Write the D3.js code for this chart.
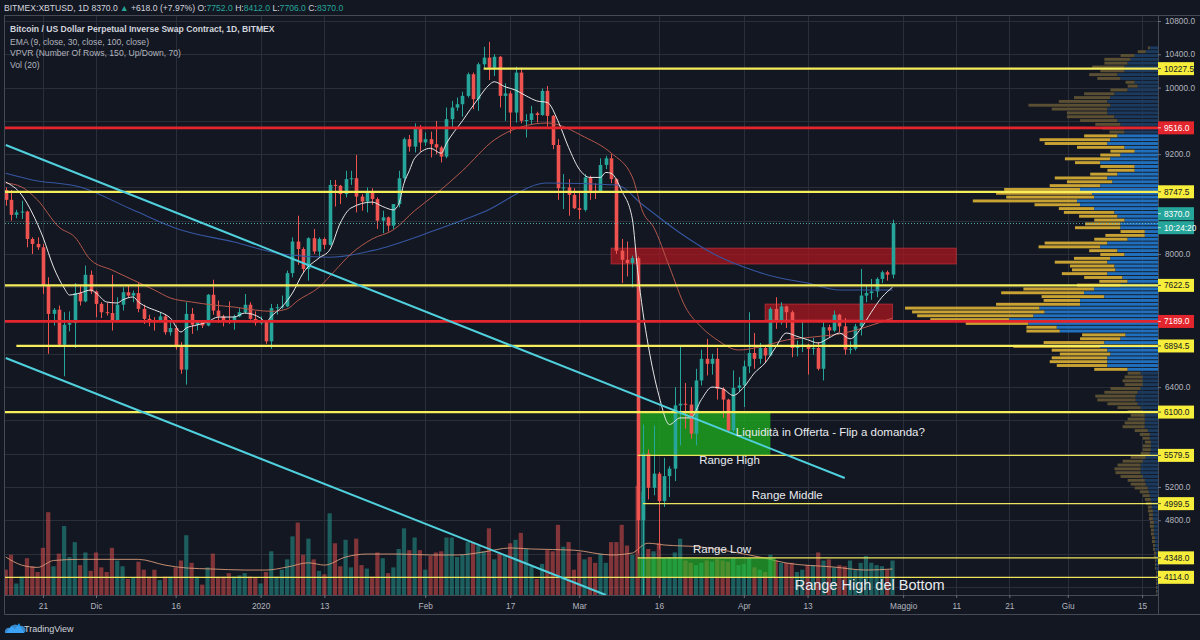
<!DOCTYPE html>
<html>
<head>
<meta charset="utf-8">
<script src="https://cdn.jsdelivr.net/npm/d3@7"></script>
<style>
  html, body { margin: 0; padding: 0; background: #131722; }
  svg { display: block; font-family: "Liberation Sans", Arial, sans-serif; }
</style>
</head>
<body>
<svg id="chart" width="1200" height="640"></svg>
<script>
// ---------------- data ----------------

// daily candles [open, high, low, close], first one is 14 Nov 2019
const firstDay = '2019-11-14'
const candles = [
  // Nov
  [8770,8800,8580,8650],[8650,8770,8400,8470],[8470,8530,8430,8500],[8500,8640,8420,8510],[8510,8520,8080,8180],
  [8180,8200,8000,8120],[8120,8200,8050,8080],[8080,8120,7520,7620],[7620,7720,6800,7280],[7280,7350,7140,7330],
  [7330,7380,6880,6910],[6910,7300,6530,7150],[7150,7310,7070,7170],[7170,7650,6870,7530],[7530,7620,7380,7430],
  [7430,7860,7420,7750],[7750,7800,7520,7550],
  // Dec
  [7550,7560,7240,7400],[7400,7420,7230,7300],[7300,7410,7260,7290],[7290,7750,7080,7200],[7200,7480,7180,7390],
  [7390,7600,7320,7540],[7540,7620,7480,7500],[7500,7560,7420,7530],[7530,7650,7300,7340],[7340,7390,7160,7220],
  [7220,7270,7130,7200],[7200,7240,7080,7190],[7190,7300,7180,7250],[7250,7270,7030,7060],[7060,7180,7020,7110],
  [7110,7140,6850,6880],[6880,6940,6560,6610],[6610,7420,6430,7280],[7280,7350,7040,7150],[7150,7200,7080,7190],
  [7190,7200,7110,7140],[7140,7520,7130,7510],[7510,7690,7270,7320],[7320,7440,7170,7250],[7250,7270,7130,7200],
  [7200,7430,7160,7190],[7190,7270,7090,7250],[7250,7350,7240,7300],[7300,7520,7280,7390],[7390,7420,7210,7220],
  [7220,7310,7140,7170],
  // Jan
  [7170,7250,7150,7180],[7180,7200,6920,6950],[6950,7400,6860,7350],[7350,7400,7270,7360],[7360,7500,7340,7370],
  [7370,7800,7360,7770],[7770,8200,7720,8150],[8150,8460,7870,8060],[8060,8080,7770,7820],[7820,8200,7680,8190],
  [8190,8300,8000,8030],[8030,8200,7970,8180],[8180,8200,8060,8110],[8110,8890,8100,8830],[8830,8890,8570,8820],
  [8820,8830,8600,8720],[8720,9000,8680,8900],[8900,9000,8830,8910],[8910,9190,8500,8690],[8690,8720,8520,8630],
  [8630,8800,8500,8740],[8740,8790,8590,8660],[8660,8680,8300,8400],[8400,8520,8250,8440],[8440,8450,8270,8340],
  [8340,8600,8300,8600],[8600,9000,8560,8910],[8910,9400,8870,9380],[9380,9430,9230,9290],[9290,9570,9220,9510],
  [9510,9550,9230,9340],
  // Feb
  [9340,9460,9300,9380],[9380,9470,9160,9320],[9320,9600,9200,9280],[9280,9300,9100,9170],[9170,9760,9150,9620],
  [9620,9840,9530,9760],[9760,9880,9720,9800],[9800,9950,9650,9900],[9900,10180,9880,10160],[10160,10180,9740,9860],
  [9860,10300,9720,10280],[10280,10490,10240,10360],[10360,10550,10090,10240],[10240,10400,10140,10370],[10370,10380,9760,9900],
  [9900,10050,9600,9930],[9930,9960,9450,9700],[9700,10250,9580,10180],[10180,10240,9570,9600],[9600,9680,9400,9610],
  [9610,9780,9560,9690],[9690,9710,9580,9670],[9670,9990,9660,9960],[9960,10020,9530,9660],[9660,9670,9260,9310],
  [9310,9380,8650,8790],[8790,8960,8540,8800],[8800,8900,8460,8710],[8710,8790,8540,8550],
  // Mar
  [8550,8750,8420,8530],[8530,8960,8510,8920],[8920,8940,8650,8760],[8760,8850,8660,8750],[8750,9150,8740,9070],
  [9070,9180,9020,9150],[9150,9200,8850,8900],[8900,8910,8000,8040],[8040,8180,7650,7930],[7930,8150,7730,7890],
  [7890,7980,7600,7950],[7950,7970,4400,4800],[4800,5950,3600,5600],[5600,5650,5050,5190],[5190,5940,5100,5360],
  [5360,5380,4450,5030],[5030,5550,4960,5330],[5330,5450,5080,5420],[5420,6400,5270,6180],[6180,6900,5700,6200],
  [6200,6450,5900,6190],[6190,6400,5780,5840],[5840,6620,5700,6480],[6480,6850,6420,6740],[6740,6980,6540,6680],
  [6680,6800,6550,6740],[6740,6870,6250,6380],[6380,6400,6030,6250],[6250,6260,5870,5880],[5880,6600,5860,6390],
  [6390,6520,6340,6420],
  // Apr
  [6420,6720,6160,6650],[6650,7300,6570,6810],[6810,7050,6620,6740],[6740,6930,6680,6870],[6870,6890,6690,6780],
  [6780,7360,6770,7340],[7340,7480,7100,7200],[7200,7420,7150,7370],[7370,7380,7110,7300],[7300,7320,6760,6870],
  [6870,6960,6770,6890],[6890,7200,6820,6910],[6910,6920,6550,6860],[6860,6990,6790,6870],[6870,6940,6600,6620],
  [6620,7200,6480,7120],[7120,7150,7000,7080],[7080,7320,7060,7270],[7270,7280,7060,7130],[7130,7230,6790,6850],
  [6850,6950,6800,6860],[6860,7160,6840,7130],[7130,7820,7020,7500],[7500,7620,7420,7530],[7530,7700,7450,7550],
  [7550,7720,7480,7700],[7700,7800,7650,7780],[7780,7800,7680,7752],[7752,8412,7706,8370]
]

// daily volume (relative units), same days as the candles
const volume = [
  22,35,10,16,32,25,20,41,72,25,36,60,33,46,26,37,21,
  37,24,20,41,30,25,14,15,29,22,16,22,13,16,16,24,30,52,28,16,9,24,36,16,16,19,16,17,19,16,15,
  10,20,38,16,22,31,51,63,35,49,31,21,18,71,45,25,48,24,49,26,23,16,37,32,19,24,40,58,39,50,39,
  22,34,37,38,50,50,33,35,46,46,43,38,58,31,36,35,45,48,54,40,25,14,27,39,38,61,42,46,22,
  37,31,33,28,36,28,46,46,61,43,35,95,90,40,38,45,32,33,37,49,30,28,26,28,30,29,31,30,29,32,26,
  27,32,24,22,20,35,30,28,28,28,20,22,26,26,37,30,31,24,26,25,30,22,28,34,28,26,25,22,30
]

// indicator lines read at sample dates
const ema9 = [
  ['2019-11-14',8865],['2019-11-17',8709],['2019-11-19',8492],['2019-11-21',8204],['2019-11-23',7843],
  ['2019-11-25',7591],['2019-11-26',7507],['2019-11-28',7531],['2019-11-30',7567],['2019-12-01',7531],
  ['2019-12-03',7423],['2019-12-05',7411],['2019-12-06',7447],['2019-12-08',7483],['2019-12-09',7423],
  ['2019-12-11',7351],['2019-12-13',7303],['2019-12-15',7230],['2019-12-17',7062],['2019-12-18',7110],
  ['2019-12-20',7146],['2019-12-22',7182],['2019-12-24',7242],['2019-12-27',7242],['2019-12-29',7290],
  ['2020-01-01',7230],['2020-01-02',7180],['2020-01-03',7250],['2020-01-05',7362],['2020-01-07',7531],
  ['2020-01-09',7771],['2020-01-12',7952],['2020-01-14',8048],['2020-01-16',8372],['2020-01-18',8552],
  ['2020-01-22',8624],['2020-01-24',8570],['2020-01-26',8530],['2020-01-27',8600],['2020-01-28',8850],
  ['2020-01-29',9000],['2020-01-30',9150],['2020-02-02',9270],['2020-02-04',9210],['2020-02-05',9330],
  ['2020-02-08',9600],['2020-02-11',9870],['2020-02-13',10030],['2020-02-14',10070],['2020-02-16',10010],
  ['2020-02-18',9970],['2020-02-20',9900],['2020-02-22',9840],['2020-02-24',9820],['2020-02-26',9600],
  ['2020-02-28',9280],['2020-03-01',9020],['2020-03-03',8920],['2020-03-05',8920],['2020-03-06',8980],
  ['2020-03-07',8970],['2020-03-09',8760],['2020-03-11',8420],['2020-03-12',7800],['2020-03-13',7300],
  ['2020-03-14',6900],['2020-03-16',6300],['2020-03-18',5950],['2020-03-20',6030],['2020-03-22',6030],
  ['2020-03-24',6250],['2020-03-26',6400],['2020-03-28',6380],['2020-03-30',6300],['2020-04-01',6400],
  ['2020-04-03',6570],['2020-04-05',6690],['2020-04-07',6880],['2020-04-09',7050],['2020-04-11',7010],
  ['2020-04-13',6970],['2020-04-15',6930],['2020-04-17',6990],['2020-04-19',7050],['2020-04-21',6980],
  ['2020-04-23',7100],['2020-04-25',7300],['2020-04-27',7480],['2020-04-29',7600]
]
const ema30 = [
  ['2019-11-14',8853],['2019-11-17',8805],['2019-11-20',8648],['2019-11-24',8324],['2019-11-27',8204],
  ['2019-11-30',7928],['2019-12-04',7807],['2019-12-08',7687],['2019-12-12',7567],['2019-12-15',7471],
  ['2019-12-19',7423],['2019-12-23',7387],['2019-12-27',7362],['2019-12-31',7326],['2020-01-03',7310],
  ['2020-01-06',7340],['2020-01-08',7440],['2020-01-12',7600],['2020-01-15',7800],['2020-01-18',8000],
  ['2020-01-22',8180],['2020-01-26',8290],['2020-01-30',8520],['2020-02-03',8720],['2020-02-08',9000],
  ['2020-02-14',9370],['2020-02-19',9526],['2020-02-24',9574],['2020-03-02',9406],['2020-03-07',9213],
  ['2020-03-11',8925],['2020-03-13',8500],['2020-03-15',8324],['2020-03-18',7843],['2020-03-21',7362],
  ['2020-03-24',7122],['2020-03-27',6966],['2020-03-31',6846],['2020-04-04',6882],['2020-04-09',6966],
  ['2020-04-14',7002],['2020-04-20',7050],['2020-04-24',7122],['2020-04-29',7230]
]
const ema100 = [
  ['2019-11-14',8970],['2019-11-19',8890],['2019-11-28',8805],['2019-12-08',8528],['2019-12-17',8288],
  ['2019-12-27',8144],['2020-01-05',8000],['2020-01-14',7960],['2020-01-22',8040],['2020-02-03',8288],
  ['2020-02-12',8504],['2020-02-24',8853],['2020-03-08',8829],['2020-03-13',8588],['2020-03-20',8252],
  ['2020-03-26',8011],['2020-04-01',7843],['2020-04-07',7723],['2020-04-13',7651],['2020-04-19',7567],
  ['2020-04-29',7567]
]
const volMA = [
  ['2019-11-14',33],['2019-11-17',26],['2019-11-20',24],['2019-11-23',30],['2019-11-28',31],
  ['2019-12-04',31],['2019-12-09',31],['2019-12-14',26],['2019-12-18',23.5],['2019-12-23',22.6],
  ['2019-12-29',21.7],['2020-01-02',21.7],['2020-01-06',24.3],['2020-01-10',28],['2020-01-13',26],
  ['2020-01-17',33],['2020-01-21',35.6],['2020-01-27',35.6],['2020-02-02',34.8],['2020-02-07',34.8],
  ['2020-02-12',37.4],['2020-02-17',40.9],['2020-02-21',40],['2020-02-29',39],['2020-03-07',34.8],
  ['2020-03-11',36.5],['2020-03-12',39.5],['2020-03-13',43.5],['2020-03-14',45],['2020-03-17',43.5],
  ['2020-03-24',41.7],['2020-03-30',37.4],['2020-04-05',32],['2020-04-09',27.8],['2020-04-18',24.3],
  ['2020-04-24',21.7],['2020-04-29',22.6]
]

// visible range volume profile: 150 rows from 10500 down to 3600
const vpHigh = 10500, vpLow = 3600
const valueArea = [6600, 9420]
const vpTotal = [
  10,20,37,53,53,65,57,68,60,32, 30,47,73,83,98,128,105,90,90,77,
  62,55,48,73,117,112,80,47,57,92, 82,57,50,67,102,90,107,152,160,150,
  183,122,98,93,78,63,72,82,37,52, 63,112,118,68,57,83,102,87,85,95,
  73,58,80,133,155,115,113,160,250,243, 238,225,190,130,130,75,77,113,143,105,
  97,105,107,100,63,30,33,35,33,47, 53,62,60,50,40,30,27,30,33,35,
  23,18,15,13,15,15,17,27,35,40, 43,42,37,30,27,23,18,15,13,12,
  10,10,9,9,8,8,7,7,6,6, 5,5,4,4,3,3,3,2,2,2,
  2,2,2,2,1,1,1,1,1,1
]
const vpUp = [
  8,12,23,27,30,33,33,40,37,23, 20,30,43,47,50,47,50,50,43,40,
  37,33,33,40,47,50,33,23,37,47, 57,23,23,40,50,45,57,77,65,63,
  80,77,63,43,40,33,37,37,13,13, 30,50,57,40,33,47,50,43,42,50,
  35,30,37,63,73,53,77,77,117,112, 123,147,128,100,97,32,37,53,57,50,
  47,50,50,50,30,17,15,15,15,17, 20,22,22,20,17,15,13,13,13,13,
  10,8,8,7,7,7,8,12,15,17, 17,17,15,13,12,10,9,8,7,6,
  6,5,5,5,4,4,4,4,3,3, 3,3,2,2,2,2,2,1,1,1,
  1,1,1,1,1,1,1,1,1,1
]

// drawings: horizontal levels [price, start date or null, kind]
const levels = [
  [10227.5, '2020-02-12', 'major'],
  [9516.0, null, 'key'],
  [8747.5, null, 'major'],
  [7622.5, null, 'major'],
  [7189.0, null, 'key'],
  [6894.5, '2019-11-16', 'major'],
  [6100.0, null, 'major'],
  [5579.5, '2020-03-12', 'minor'],
  [4999.5, '2020-03-13', 'minor'],
  [4348.0, '2020-03-12', 'minor'],
  [4114.0, null, 'minor']
]
// zones [from, to, low, high, kind]
const zones = [
  ['2020-03-07', '2020-05-11', 7880, 8070, 'supply'],
  ['2020-04-05', '2020-04-29', 7206, 7398, 'supply'],
  ['2020-03-12', '2020-04-06', 5580, 6100, 'demand'],
  ['2020-03-12', '2020-04-07', 4114, 4348, 'bottom']
]
const trendlines = [
  [['2019-11-14', 9310], ['2020-04-20', 5307]],
  [['2019-11-14', 6750], ['2020-03-06', 3901]]
]
const notes = [
  ['Liquidità in Offerta - Flip a domanda?', '2020-03-30T12:00Z', 5812, 'small'],
  ['Range High', '2020-03-23T14:00Z', 5476, 'small'],
  ['Range Middle', '2020-04-02T12:00Z', 5055, 'small'],
  ['Range Low', '2020-03-22T10:00Z', 4406, 'small'],
  ['Range High del Bottom', '2020-04-10T14:00Z', 3961, 'big']
]

// axis
const timeTicks = ['2019-11-21','2019-12-01','2019-12-16','2020-01-01','2020-01-13','2020-02-01','2020-02-17',
  '2020-03-01','2020-03-16','2020-04-01','2020-04-13','2020-05-01','2020-05-11','2020-05-21','2020-06-01','2020-06-15']
const timeLabels = ['21','Dic','16','2020','13','Feb','17','Mar','16','Apr','13','Maggio','11','21','Giu','15']
const priceTicks = d3.range(4000, 10801, 400)

const title = 'Bitcoin / US Dollar Perpetual Inverse Swap Contract, 1D, BITMEX'
const legend = ['EMA (9, close, 30, close, 100, close)', 'VPVR (Number Of Rows, 150, Up/Down, 70)', 'Vol (20)']
const countdown = '10:24:20'

// ---------------- chart ----------------
const svg = d3.select('#chart')
const plot = { left: 5, right: 1158, top: 15, bottom: 595 }
const axisBottomY = 614.5
const up = '#26a69a', down = '#ef5350'
const yellow = '#f6ee5a', red = '#e3262d'

const toDate = s => new Date(s.length > 10 ? s : s + 'T00:00:00Z')
const days = candles.map((d, i) => d3.utcDay.offset(toDate(firstDay), i))

const x = d3.scaleUtc()
  .domain([toDate('2019-11-21'), toDate('2020-06-15')])
  .range([42.9, 1142.1])
const y = d3.scaleLinear()
  .domain([4000, 10800])
  .range([586.8, 21])
const vy = d3.scaleLinear()
  .domain([0, 100])
  .range([plot.bottom, 480])

svg.append('rect').attr('width', 1200).attr('height', 640).attr('fill', '#131722')

svg.append('clipPath').attr('id', 'clip')
  .append('rect')
  .attr('x', plot.left).attr('y', plot.top)
  .attr('width', plot.right - plot.left).attr('height', plot.bottom - plot.top)

// grid
const grid = svg.append('g').attr('stroke', '#2a2e39').attr('stroke-width', 1)
grid.selectAll('line.h').data(priceTicks).join('line')
  .attr('x1', plot.left).attr('x2', plot.right)
  .attr('y1', d => Math.round(y(d)) + 0.5).attr('y2', d => Math.round(y(d)) + 0.5)
grid.selectAll('line.v').data(timeTicks).join('line')
  .attr('y1', plot.top).attr('y2', plot.bottom)
  .attr('x1', d => Math.round(x(toDate(d))) + 0.5).attr('x2', d => Math.round(x(toDate(d))) + 0.5)

const g = svg.append('g').attr('clip-path', 'url(#clip)')

// volume profile
const vpStep = (vpHigh - vpLow) / vpTotal.length
const vx = d3.scaleLinear().domain([0, d3.max(vpTotal)]).range([0, 253])
const vpRows = vpTotal.map((t, i) => {
  const top = vpHigh - i * vpStep
  const mid = top - vpStep / 2
  return { top, bottom: top - vpStep, total: t, up: vpUp[i], va: mid >= valueArea[0] && mid <= valueArea[1] }
})
const vp = g.append('g')
vp.selectAll('rect.down').data(vpRows).join('rect')
  .attr('x', d => plot.right - vx(d.total))
  .attr('width', d => vx(d.total - d.up))
  .attr('y', d => y(d.top) + 0.4)
  .attr('height', d => y(d.bottom) - y(d.top) - 0.9)
  .attr('fill', d => d.va ? '#c9a234' : '#5a4f33')
vp.selectAll('rect.up').data(vpRows).join('rect')
  .attr('x', d => plot.right - vx(d.up))
  .attr('width', d => vx(d.up))
  .attr('y', d => y(d.top) + 0.4)
  .attr('height', d => y(d.bottom) - y(d.top) - 0.9)
  .attr('fill', d => d.va ? '#2170bd' : '#1b3a5d')

// volume bars
const bars = candles.map((c, i) => ({ date: days[i], v: volume[i], rising: c[3] >= c[0] }))
g.append('g').selectAll('rect').data(bars).join('rect')
  .attr('x', d => x(d.date) - 2.1)
  .attr('width', 4.2)
  .attr('y', d => vy(d.v))
  .attr('height', d => plot.bottom - vy(d.v))
  .attr('fill', d => d.rising ? up : down)
  .attr('opacity', 0.5)

g.append('path').datum(volMA)
  .attr('fill', 'none').attr('stroke', '#e0a07c').attr('stroke-width', 1).attr('opacity', 0.85)
  .attr('d', d3.line().x(d => x(toDate(d[0]))).y(d => vy(d[1])).curve(d3.curveMonotoneX))

// zones
const zoneStyle = {
  supply: { fill: 'rgba(176,22,32,0.72)', stroke: 'rgba(225,60,70,0.55)' },
  demand: { fill: 'rgba(30,160,30,0.85)', stroke: 'none' },
  bottom: { fill: 'rgba(40,200,40,0.6)', stroke: 'none' }
}
g.append('g').selectAll('rect').data(zones).join('rect')
  .attr('x', d => x(toDate(d[0])))
  .attr('width', d => x(toDate(d[1])) - x(toDate(d[0])))
  .attr('y', d => y(d[3]))
  .attr('height', d => y(d[2]) - y(d[3]))
  .attr('fill', d => zoneStyle[d[4]].fill)
  .attr('stroke', d => zoneStyle[d[4]].stroke)

// candles
const cg = g.append('g')
const cdata = candles.map((c, i) => ({ date: days[i], o: c[0], h: c[1], l: c[2], c: c[3] }))
cg.selectAll('line').data(cdata).join('line')
  .attr('x1', d => Math.round(x(d.date)) + 0.5).attr('x2', d => Math.round(x(d.date)) + 0.5)
  .attr('y1', d => y(d.h)).attr('y2', d => y(d.l))
  .attr('stroke', d => d.c >= d.o ? up : down)
cg.selectAll('rect').data(cdata).join('rect')
  .attr('x', d => Math.round(x(d.date)) + 0.5 - 1.8)
  .attr('width', 3.6)
  .attr('y', d => y(Math.max(d.o, d.c)))
  .attr('height', d => Math.max(1, Math.abs(y(d.o) - y(d.c))))
  .attr('fill', d => d.c >= d.o ? up : down)

// moving averages
const emaLine = d3.line().x(d => x(toDate(d[0]))).y(d => y(d[1])).curve(d3.curveMonotoneX)
g.append('path').datum(ema100).attr('fill', 'none').attr('stroke', '#3656a0').attr('stroke-width', 1.1).attr('d', emaLine)
g.append('path').datum(ema30).attr('fill', 'none').attr('stroke', '#b3574c').attr('stroke-width', 1).attr('d', emaLine)
g.append('path').datum(ema9).attr('fill', 'none').attr('stroke', '#e6e6e6').attr('stroke-width', 1).attr('d', emaLine)

// horizontal levels
const levelStyle = {
  major: { color: yellow, width: 2.2 },
  minor: { color: '#ece45c', width: 1.2 },
  key: { color: red, width: 2.8 }
}
g.append('g').selectAll('line').data(levels).join('line')
  .attr('x1', d => d[1] ? x(toDate(d[1])) : plot.left)
  .attr('x2', plot.right)
  .attr('y1', d => y(d[0])).attr('y2', d => y(d[0]))
  .attr('stroke', d => levelStyle[d[2]].color)
  .attr('stroke-width', d => levelStyle[d[2]].width)

// trendlines
g.append('g').selectAll('line').data(trendlines).join('line')
  .attr('x1', d => x(toDate(d[0][0]))).attr('y1', d => y(d[0][1]))
  .attr('x2', d => x(toDate(d[1][0]))).attr('y2', d => y(d[1][1]))
  .attr('stroke', '#4fd0dc').attr('stroke-width', 2)

// last price line
const last = cdata[cdata.length - 1]
const prev = cdata[cdata.length - 2]
g.append('line')
  .attr('x1', plot.left).attr('x2', plot.right)
  .attr('y1', Math.round(y(last.c)) + 0.5).attr('y2', Math.round(y(last.c)) + 0.5)
  .attr('stroke', '#5fc8c0').attr('stroke-dasharray', '1,2').attr('opacity', 0.8)

// text notes
svg.append('g').selectAll('text').data(notes).join('text')
  .attr('x', d => x(toDate(d[1])))
  .attr('y', d => y(d[2]))
  .attr('font-size', d => d[3] === 'big' ? 14.5 : 11.5)
  .attr('fill', '#e8eaee')
  .text(d => d[0])

// frame
const frame = svg.append('g').attr('stroke', '#464a55').attr('fill', 'none')
frame.append('line').attr('x1', 4.5).attr('x2', 4.5).attr('y1', plot.top).attr('y2', axisBottomY)
frame.append('line').attr('x1', 4.5).attr('x2', 1200).attr('y1', plot.top + 0.5).attr('y2', plot.top + 0.5)
frame.append('line').attr('x1', 4.5).attr('x2', plot.right).attr('y1', plot.bottom + 0.5).attr('y2', plot.bottom + 0.5)
frame.append('line').attr('x1', 4.5).attr('x2', 1200).attr('y1', axisBottomY).attr('y2', axisBottomY)
frame.append('line').attr('x1', plot.right + 0.5).attr('x2', plot.right + 0.5).attr('y1', plot.top).attr('y2', axisBottomY)

// price labels on the axis
const priceTags = levels.map(d => ({ y: y(d[0]), text: d3.format('.1f')(d[0]), bg: d[2] === 'key' ? red : '#f7ee3c', fg: d[2] === 'key' ? '#ffffff' : '#131722' }))
priceTags.push({ y: y(last.c) - 9.5, text: d3.format('.1f')(last.c), bg: up, fg: '#ffffff' })
priceTags.push({ y: y(last.c) + 4.5, text: countdown, bg: up, fg: '#ffffff' })

// axes
const styleAxis = a => {
  a.select('.domain').remove()
  a.selectAll('.tick line').attr('stroke', '#6a6d78')
  a.selectAll('.tick text').attr('fill', '#b2b5be').attr('font-size', 8.3)
    .attr('font-family', '"Liberation Sans", Arial, sans-serif')
}
svg.append('g')
  .attr('transform', `translate(0,${plot.bottom})`)
  .call(d3.axisBottom(x).tickValues(timeTicks.map(toDate)).tickFormat((d, i) => timeLabels[i]).tickSize(3).tickPadding(5))
  .call(styleAxis)
// price ticks hidden behind a tag are left out, as the platform does
const freeTicks = priceTicks.filter(p => priceTags.every(t => Math.abs(t.y - y(p)) > 12))
svg.append('g')
  .attr('transform', `translate(${plot.right},0)`)
  .call(d3.axisRight(y).tickValues(freeTicks).tickFormat(d3.format('.1f')).tickSize(3).tickPadding(4))
  .call(styleAxis)

const tags = svg.append('g').selectAll('g').data(priceTags).join('g')
  .attr('transform', d => `translate(${plot.right},${d.y})`)
tags.append('rect').attr('x', 0).attr('y', -6.5).attr('width', 36).attr('height', 13).attr('fill', d => d.bg)
tags.append('line').attr('x1', 0).attr('x2', 3).attr('stroke', d => d.fg).attr('opacity', 0.7)
tags.append('text').attr('x', 6).attr('y', 3).attr('font-size', 8.3).attr('fill', d => d.fg).text(d => d.text)

// header
const change = last.c - prev.c
const fmt = d3.format('.1f')
const head = svg.append('text').attr('x', 4).attr('y', 10.5).attr('font-size', 8.6).attr('fill', '#d1d4dc')
head.append('tspan').text(`BITMEX:XBTUSD, 1D ${fmt(last.c)} `)
head.append('tspan').attr('fill', up).text('▲ ')
head.append('tspan').text(`+${fmt(change)} (+${d3.format('.2f')(change / prev.c * 100)}%) `)
;[['O', last.o], ['H', last.h], ['L', last.l], ['C', last.c]].forEach(([k, v]) => {
  head.append('tspan').text(`${k}:`)
  head.append('tspan').attr('fill', up).text(`${fmt(v)} `)
})

svg.append('text').attr('x', 10).attr('y', 32).attr('font-size', 8.6).attr('font-weight', 'bold')
  .attr('fill', '#d1d4dc').text(title)
svg.append('g').selectAll('text').data(legend).join('text')
  .attr('x', 10).attr('y', (d, i) => 44.5 + i * 11.5)
  .attr('font-size', 8.6).attr('fill', '#b2b5be')
  .text(d => d)

// TradingView logo
const logo = svg.append('g').attr('transform', 'translate(5,621)')
logo.append('path').attr('d', 'M1,12 L6,5 L10,8 L14,2 L19,12 Z').attr('fill', '#2196f3')
logo.append('path').attr('d', 'M0,12 a4,4 0 0 1 5,-5 a5,5 0 0 1 9,-1 a3.5,3.5 0 0 1 5,6 Z').attr('fill', '#42a5f5').attr('opacity', 0.8)
svg.append('text').attr('x', 24).attr('y', 632).attr('font-size', 9).attr('fill', '#d1d4dc').text('TradingView')
</script>
</body>
</html>
